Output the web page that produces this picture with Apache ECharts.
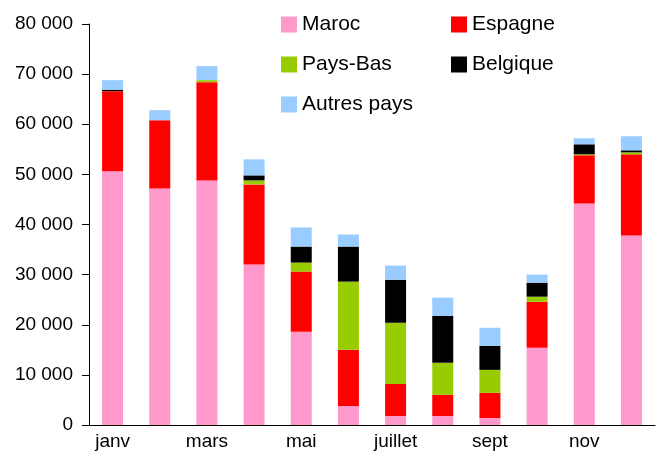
<!DOCTYPE html>
<html>
<head>
<meta charset="utf-8">
<script src="https://cdn.jsdelivr.net/npm/echarts@6/dist/echarts.min.js"></script>
<style>
html, body { margin: 0; padding: 0; background: #fff; }
#chart { width: 662px; height: 466px; }
</style>
</head>
<body>
<div id="chart"></div>
<script>
var months = ['janv', 'févr', 'mars', 'avr', 'mai', 'juin', 'juillet', 'août', 'sept', 'oct', 'nov', 'déc'];
var maroc    = [50600, 47200, 48800, 32000, 18600, 3800, 1800, 1800, 1400, 15400, 44200, 37800];
var espagne  = [16000, 13600, 19600, 16000, 12000, 11200, 6400, 4200, 5000, 9200, 9600, 16200];
var paysBas  = [0, 0, 400, 800, 1800, 13600, 12200, 6400, 4600, 1000, 200, 400];
var belgique = [300, 0, 0, 1000, 3200, 7000, 8600, 9400, 4800, 2800, 2000, 400];
var autres   = [1900, 2000, 2800, 3200, 3800, 2400, 2800, 3600, 3600, 1600, 1200, 2800];
var yTicks = [0, 10000, 20000, 30000, 40000, 50000, 60000, 70000, 80000];

var chart = echarts.init(document.getElementById('chart'));

function fmt(v) {
    return String(v).replace(/\B(?=(\d{3})+(?!\d))/g, ' ');
}

function serie(name, data, color) {
    return {
        name: name,
        type: 'bar',
        stack: 'total',
        barWidth: 21,
        data: data,
        itemStyle: { color: color }
    };
}

var legendText = { fontFamily: 'Liberation Sans', fontSize: 21, color: '#000', lineHeight: 21 };

option = {
    animation: false,
    textStyle: { fontFamily: 'Liberation Sans' },
    legend: [{
        data: ['Maroc', 'Pays-Bas', 'Autres pays'],
        orient: 'vertical',
        left: 281,
        top: 14,
        padding: 0,
        itemWidth: 16,
        itemHeight: 16,
        itemGap: 19,
        icon: 'rect',
        textStyle: legendText
    }, {
        data: ['Espagne', 'Belgique'],
        orient: 'vertical',
        left: 451,
        top: 14,
        padding: 0,
        itemWidth: 16,
        itemHeight: 16,
        itemGap: 19,
        icon: 'rect',
        textStyle: legendText
    }],
    grid: {
        left: 89,
        right: 7,
        top: 24,
        bottom: 41
    },
    xAxis: {
        type: 'category',
        data: months,
        axisLine: { lineStyle: { color: '#000', width: 1 } },
        axisTick: { alignWithLabel: false, length: 6, interval: 0, lineStyle: { color: '#000' } },
        axisLabel: { interval: 1, margin: 7, fontSize: 19, color: '#000', fontFamily: 'Liberation Sans' }
    },
    yAxis: {
        type: 'value',
        min: yTicks[0],
        max: yTicks[yTicks.length - 1],
        interval: 10000,
        splitLine: { show: false },
        axisLine: { show: true, lineStyle: { color: '#000', width: 1 } },
        axisTick: { show: true, length: 7, lineStyle: { color: '#000' } },
        axisLabel: {
            margin: 16,
            fontSize: 19,
            color: '#000',
            fontFamily: 'Liberation Sans',
            formatter: fmt
        }
    },
    series: [
        serie('Maroc', maroc, '#FF99CC'),
        serie('Espagne', espagne, '#FF0000'),
        serie('Pays-Bas', paysBas, '#99CC00'),
        serie('Belgique', belgique, '#000000'),
        serie('Autres pays', autres, '#99CCFF')
    ]
};
chart.setOption(option);
</script>
</body>
</html>
